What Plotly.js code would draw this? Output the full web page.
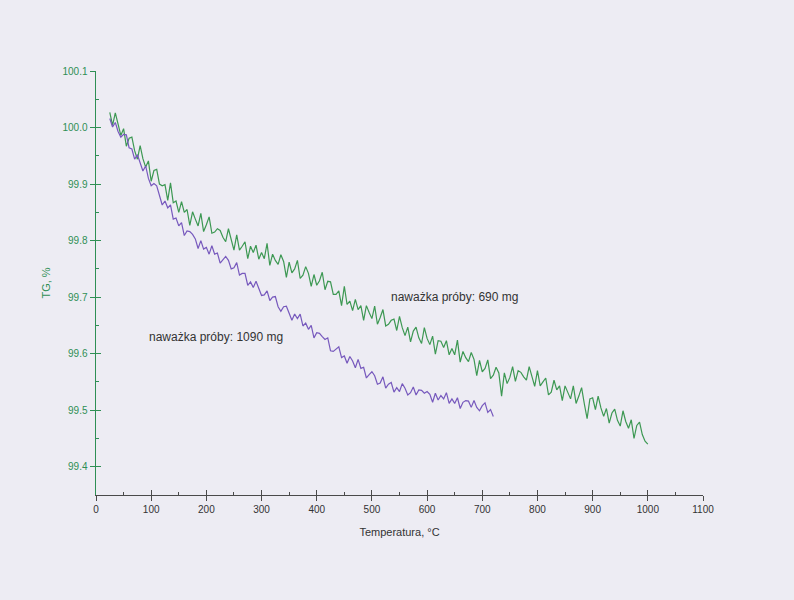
<!DOCTYPE html>
<html>
<head>
<meta charset="utf-8">
<script src="https://cdn.plot.ly/plotly-3.0.1.min.js"></script>
<style>
  html, body { margin: 0; padding: 0; background: #edecf3; }
  #chart { width: 794px; height: 600px; }
</style>
</head>
<body>
<div id="chart"></div>
<script>
// Temperature grid of both recordings (°C): first sample and sample spacing
const tempStart = 25;
const tempStep = 5;

// Sample 690 mg (green), TG % from 25 °C to 1000 °C every 5 °C (noisy trace)
const tg690 = [
  100.027, 100.004, 100.026, 100.003, 99.986,
  99.998, 99.967, 99.981, 99.983, 99.959,
  99.944, 99.968, 99.945, 99.930, 99.941,
  99.905, 99.924, 99.926, 99.900, 99.897,
  99.899, 99.871, 99.902, 99.867, 99.870,
  99.850, 99.869, 99.850, 99.855, 99.827,
  99.851, 99.838, 99.826, 99.848, 99.816,
  99.828, 99.842, 99.813, 99.815, 99.821,
  99.818, 99.806, 99.798, 99.821, 99.801,
  99.783, 99.810, 99.783, 99.790, 99.798,
  99.768, 99.790, 99.779, 99.792, 99.767,
  99.779, 99.768, 99.795, 99.756, 99.776,
  99.765, 99.758, 99.775, 99.763, 99.735,
  99.762, 99.743, 99.750, 99.765, 99.733,
  99.739, 99.754, 99.742, 99.719, 99.740,
  99.721, 99.729, 99.744, 99.713, 99.728,
  99.727, 99.705, 99.705, 99.711, 99.685,
  99.719, 99.687, 99.693, 99.676, 99.696,
  99.678, 99.685, 99.659, 99.685, 99.673,
  99.662, 99.684, 99.652, 99.664, 99.678,
  99.649, 99.652, 99.659, 99.661, 99.641,
  99.666, 99.646, 99.632, 99.647, 99.621,
  99.640, 99.647, 99.628, 99.618, 99.646,
  99.627, 99.616, 99.631, 99.599, 99.623,
  99.622, 99.611, 99.623, 99.598, 99.609,
  99.598, 99.624, 99.585, 99.604, 99.593,
  99.586, 99.602, 99.590, 99.561, 99.588,
  99.568, 99.574, 99.589, 99.556, 99.562,
  99.576, 99.566, 99.525, 99.566, 99.547,
  99.558, 99.577, 99.551, 99.570, 99.567,
  99.559, 99.553, 99.577, 99.559, 99.542,
  99.570, 99.543, 99.550, 99.557, 99.527,
  99.532, 99.553, 99.536, 99.543, 99.517,
  99.543, 99.531, 99.520, 99.543, 99.512,
  99.525, 99.540, 99.511, 99.485, 99.520,
  99.522, 99.501, 99.525, 99.504, 99.489,
  99.503, 99.477, 99.495, 99.502, 99.482,
  99.472, 99.499, 99.480, 99.468, 99.483,
  99.450, 99.473, 99.479, 99.457, 99.445,
  99.440
];

// Sample 1090 mg (purple), TG % from 25 °C to 720 °C every 5 °C (noisy trace)
const tg1090 = [
  100.016, 100.001, 100.009, 99.993, 99.983,
  99.988, 99.987, 99.964, 99.962, 99.944,
  99.952, 99.939, 99.923, 99.932, 99.910,
  99.897, 99.901, 99.897, 99.880, 99.863,
  99.870, 99.858, 99.863, 99.838, 99.840,
  99.826, 99.832, 99.809, 99.817, 99.816,
  99.811, 99.803, 99.786, 99.800, 99.785,
  99.788, 99.776, 99.791, 99.776, 99.778,
  99.760, 99.766, 99.772, 99.765, 99.750,
  99.752, 99.761, 99.739, 99.742, 99.742,
  99.721, 99.727, 99.717, 99.728, 99.717,
  99.703, 99.704, 99.711, 99.694, 99.700,
  99.701, 99.683, 99.675, 99.683, 99.684,
  99.671, 99.659, 99.670, 99.662, 99.670,
  99.649, 99.654, 99.643, 99.650, 99.628,
  99.637, 99.636, 99.630, 99.625, 99.628,
  99.605, 99.604, 99.608, 99.612, 99.593,
  99.596, 99.583, 99.595, 99.587, 99.575,
  99.590, 99.574, 99.576, 99.557, 99.563,
  99.568, 99.561, 99.546, 99.548, 99.559,
  99.539, 99.546, 99.549, 99.532, 99.540,
  99.533, 99.547, 99.539, 99.527, 99.531,
  99.541, 99.527, 99.536, 99.535, 99.530,
  99.533, 99.528, 99.514, 99.530, 99.518,
  99.526, 99.520, 99.531, 99.512, 99.520,
  99.512, 99.522, 99.503, 99.514, 99.517,
  99.516, 99.505, 99.517, 99.505, 99.499,
  99.508, 99.513, 99.496, 99.501, 99.489
];

// Labels
const label690 = "naważka próby: 690 mg";
const label1090 = "naważka próby: 1090 mg";
const xTitle = "Temperatura, °C";
const yTitle = "TG, %";

const GREEN = "#3d9853";
const PURPLE = "#7759bd";
const AXG = "#2f8f55";
const AXX = "#4a4a4a";
const FONT = "Liberation Sans, Arial, sans-serif";

const xRange = [0, 1100];
const yRange = [99.35, 100.1];

const traces = [
  { x0: tempStart, dx: tempStep, y: tg690, type: "scatter", mode: "lines",
    line: { color: GREEN, width: 1.2 }, name: label690, hoverinfo: "skip" },
  { x0: tempStart, dx: tempStep, y: tg1090, type: "scatter", mode: "lines",
    line: { color: PURPLE, width: 1.2 }, name: label1090, hoverinfo: "skip" },
  { x: [], y: [], xaxis: "x2", yaxis: "y2", type: "scatter", hoverinfo: "skip" }
];

const layout = {
  width: 794, height: 600,
  paper_bgcolor: "#edecf3", plot_bgcolor: "#edecf3",
  showlegend: false,
  margin: { l: 96, r: 91, t: 71, b: 105 },
  font: { family: FONT, size: 10, color: "#333" },
  xaxis: {
    range: xRange, dtick: 100, tick0: 0,
    showgrid: false, zeroline: false,
    showline: true, linecolor: AXX, linewidth: 1,
    ticks: "outside", ticklen: 5, tickcolor: AXX, tickwidth: 1,
    tickfont: { family: FONT, size: 10, color: "#333" },
    title: { text: xTitle, font: { family: FONT, size: 11, color: "#333" }, standoff: 14 }
  },
  xaxis2: {
    overlaying: "x", anchor: "y", range: xRange, dtick: 100, tick0: 0,
    showgrid: false, zeroline: false, showline: false, showticklabels: false,
    ticks: "inside", ticklen: 5, tickcolor: AXX, tickwidth: 1,
    minor: { dtick: 50, ticks: "inside", ticklen: 3, tickcolor: AXX, showgrid: false }
  },
  yaxis: {
    range: yRange, dtick: 0.1, tick0: 99.4, tickformat: ".1f",
    showgrid: false, zeroline: false,
    showline: true, linecolor: AXG, linewidth: 1.5,
    ticks: "outside", ticklen: 5, tickcolor: AXG, tickwidth: 1,
    tickfont: { family: FONT, size: 10, color: AXG },
    title: { text: yTitle, font: { family: FONT, size: 11, color: AXG }, standoff: 9 }
  },
  yaxis2: {
    overlaying: "y", anchor: "x", range: yRange, dtick: 0.1, tick0: 99.4,
    showgrid: false, zeroline: false, showline: false, showticklabels: false,
    ticks: "inside", ticklen: 5, tickcolor: AXG, tickwidth: 1,
    minor: { dtick: 0.05, ticks: "inside", ticklen: 3, tickcolor: AXG, showgrid: false }
  },
  annotations: [
    { x: 650, y: 99.70, xref: "x", yref: "y", text: label690, showarrow: false,
      xanchor: "center", yanchor: "middle", font: { family: FONT, size: 12, color: "#333" } },
    { x: 218, y: 99.63, xref: "x", yref: "y", text: label1090, showarrow: false,
      xanchor: "center", yanchor: "middle", font: { family: FONT, size: 12, color: "#333" } }
  ]
};

Plotly.newPlot("chart", traces, layout, { displayModeBar: false, staticPlot: true });
</script>
</body>
</html>
